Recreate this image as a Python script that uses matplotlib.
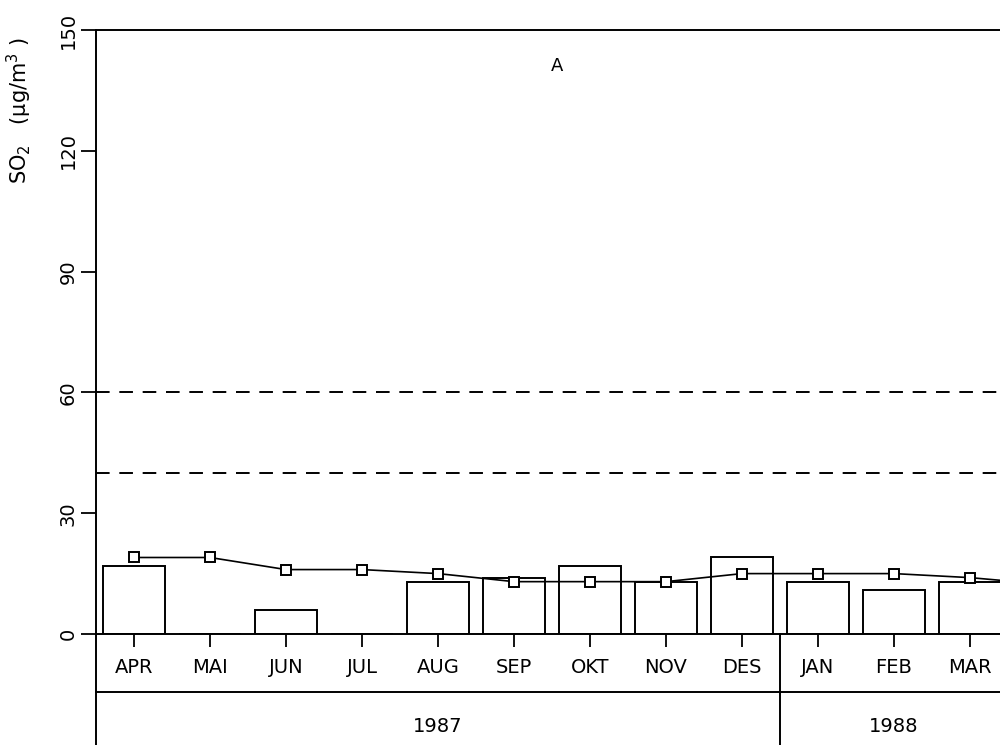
import matplotlib.pyplot as plt

# Månedlige SO2-verdier, april 1987 - mars 1988
maaneder = ["APR", "MAI", "JUN", "JUL", "AUG", "SEP", "OKT", "NOV", "DES", "JAN", "FEB", "MAR"]
stolper = [17, 0, 6, 0, 13, 14, 17, 13, 19, 13, 11, 13]       # månedsmiddel
glidende = [19, 19, 16, 16, 15, 13, 13, 13, 15, 15, 15, 14]    # løpende middel
grenser = [60, 40]                                              # grenseverdier
aar = ["1987", "1988"]
aar_grense = 8.5   # skille mellom DES og JAN

x = list(range(len(maaneder)))

fig = plt.figure(figsize=(10, 7.45), dpi=100)
ax = fig.add_axes([0.096, 0.149, 0.912, 0.8107])

ax.bar(x, stolper, width=0.82, facecolor="white", edgecolor="black", linewidth=1.4, zorder=2)
ax.plot(x + [11.6], glidende + [glidende[-1] - 1], color="black", linewidth=1.2, zorder=3, clip_on=False)
ax.plot(x, glidende, linestyle="none", marker="s", markersize=7.5, markerfacecolor="white",
        markeredgecolor="black", markeredgewidth=1.4, zorder=4)
for g in grenser:
    ax.axhline(g, color="black", linewidth=1.4, linestyle=(0, (7, 5)), zorder=1)

ax.text(5.57, 141, "A", ha="center", va="center", fontsize=13)

ax.set_xlim(-0.5, 11.5)
ax.set_ylim(0, 150)
ax.set_yticks([0, 30, 60, 90, 120, 150])
ax.set_xticks(x)
ax.set_xticklabels(maaneder)
ax.tick_params(axis="x", direction="out", length=9.5, width=1.3, pad=8, labelsize=14)
ax.tick_params(axis="y", direction="out", length=11, width=1.3, pad=2, labelsize=14, labelrotation=90)
for t in ax.get_yticklabels():
    t.set_verticalalignment("center")

ax.set_ylabel("SO$_2$   (μg/m$^3$ )", fontsize=15)
ax.yaxis.set_label_coords(-0.068, 0.866)

for side in ["left", "top", "bottom", "right"]:
    ax.spines[side].set_linewidth(1.4)

# tabell under aksen: måneder og år
bunn = -28
linje = -14.4
ax.plot([-0.5, -0.5], [0, bunn], color="black", linewidth=1.4, clip_on=False)
ax.plot([-0.5, 11.5], [linje, linje], color="black", linewidth=1.4, clip_on=False)
ax.plot([aar_grense, aar_grense], [0, bunn], color="black", linewidth=1.4, clip_on=False)
ax.text((-0.5 + aar_grense) / 2, -23, aar[0], ha="center", va="center", fontsize=14)
ax.text((aar_grense + 11.5) / 2, -23, aar[1], ha="center", va="center", fontsize=14)

fig.savefig("out.png", dpi=100)
